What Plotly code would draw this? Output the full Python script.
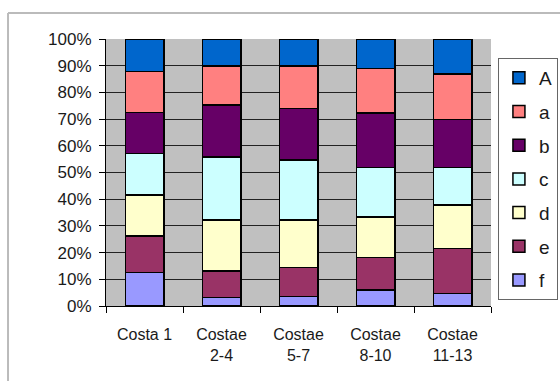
import plotly.graph_objects as go

categories = ["Costa 1", "Costae<br>2-4", "Costae<br>5-7", "Costae<br>8-10", "Costae<br>11-13"]
series_names = ["f", "e", "d", "c", "b", "a", "A"]
f_vals = [12.5, 3.2, 3.5, 6.0, 4.7]
e_vals = [13.8, 10.0, 10.9, 12.2, 16.9]
d_vals = [15.3, 19.0, 17.8, 15.2, 16.2]
c_vals = [15.6, 23.7, 22.5, 18.4, 14.0]
b_vals = [15.2, 19.4, 19.3, 20.4, 18.1]
a_vals = [15.4, 14.6, 15.9, 16.8, 17.0]
A_vals = [12.2, 10.1, 10.1, 11.0, 13.1]
colors = ["#9999FF", "#993366", "#FFFFCC", "#CCFFFF", "#660066", "#FF8080", "#0066CC"]
tick_vals = [0, 10, 20, 30, 40, 50, 60, 70, 80, 90, 100]
tick_labels = ["0%", "10%", "20%", "30%", "40%", "50%", "60%", "70%", "80%", "90%", "100%"]

values = [f_vals, e_vals, d_vals, c_vals, b_vals, a_vals, A_vals]

fig = go.Figure()
n = len(series_names)
for i, (name, vals, col) in enumerate(zip(series_names, values, colors)):
    fig.add_trace(go.Bar(
        x=categories, y=vals, name=name, legendgroup=name,
        legendrank=n - i,
        marker=dict(color=col, line=dict(color="black", width=1.5)),
    ))

font_family = "Liberation Sans, Arial, sans-serif"
fig.update_layout(
    barmode="stack",
    bargap=0.5,
    width=560, height=381,
    margin=dict(l=106, r=69, t=39, b=75, autoexpand=False),
    paper_bgcolor="white",
    plot_bgcolor="#C0C0C0",
    font=dict(family=font_family, size=16, color="#1a1a1a"),
    showlegend=True,
    legend=dict(
        traceorder="grouped",
        tracegroupgap=6,
        x=1.018, xanchor="left", y=0.929, yanchor="top",
        bgcolor="white", bordercolor="#666666", borderwidth=1,
        itemwidth=30,
        font=dict(family=font_family, size=19, color="#1a1a1a"),
    ),
    xaxis=dict(
        showline=True, linecolor="black", linewidth=1,
        ticks="outside", tickson="boundaries", ticklen=6, tickcolor="black",
        showgrid=False,
        ticklabelstandoff=14,
        tickfont=dict(size=16),
    ),
    yaxis=dict(
        range=[0, 100], tickmode="array", tickvals=tick_vals, ticktext=tick_labels,
        showline=True, linecolor="black", linewidth=1,
        ticks="outside", ticklen=6, tickcolor="black",
        showgrid=True, gridcolor="#222222", gridwidth=1,
        zeroline=False,
        ticklabelstandoff=4,
        tickfont=dict(size=17),
    ),
    shapes=[
        dict(type="line", xref="paper", yref="paper", x0=-0.2545, x1=1.2, y0=1.0974, y1=1.0974,
             line=dict(color="#BBBBBB", width=2)),
        dict(type="line", xref="paper", yref="paper", x0=-0.2545, x1=-0.2545, y0=1.0974, y1=-0.3,
             line=dict(color="#BBBBBB", width=2)),
    ],
)

fig.write_html(
    "out.html",
    config={"displayModeBar": False},
    post_script="document.body.style.margin='0';document.body.style.overflow='hidden';",
)
